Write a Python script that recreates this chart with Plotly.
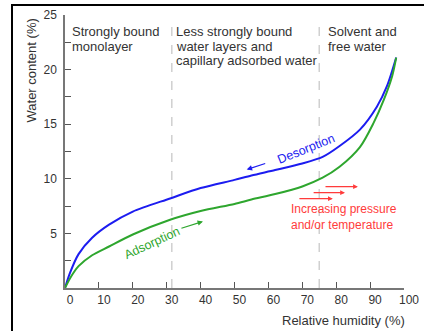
import plotly.graph_objects as go

# ---- data ----
rh_desorption = [0, 1.5, 4, 8, 13, 20, 31, 40, 50, 55, 62, 70, 76, 81, 87, 92, 95, 97.7]
wc_desorption = [0, 1.4, 3.1, 4.6, 5.8, 7.0, 8.2, 9.15, 9.9, 10.3, 10.8, 11.4, 12.0, 13.0, 14.5, 16.6, 18.5, 21.1]

rh_adsorption = [0, 1.5, 4, 8, 13, 20, 31, 40, 50, 55, 62, 70, 76, 81, 87, 91, 94, 96.5, 97.7]
wc_adsorption = [0, 0.9, 2.0, 3.0, 3.8, 4.9, 6.25, 7.05, 7.7, 8.1, 8.6, 9.3, 10.1, 11.1, 12.9, 15.1, 17.2, 19.4, 21.1]

zone_bounds = [31.5, 75]
zone_labels = [["Strongly bound", "monolayer"],
               ["Less strongly bound", "water layers and", "capillary adsorbed water"],
               ["Solvent and", "free water"]]
zone_label_x = [1.6, 32.2, 77.0]
zone_line_y = [23.45, 22.12, 20.8]

x_ticks = list(range(0, 101, 10))
y_ticks = [0, 2.5, 5, 7.5, 10, 12.5, 15, 17.5, 20, 22.5, 25]
y_ticktext = ["", "", "5", "", "10", "", "15", "", "20", "", "25"]

FONT = "Liberation Sans, Arial, sans-serif"
TXT = "#333333"
BLUE = "#1c1cf0"
GREEN = "#2ea62e"
RED = "#ff3b3b"

fig = go.Figure()
fig.add_trace(go.Scatter(x=rh_desorption, y=wc_desorption, mode="lines",
                         line=dict(color=BLUE, width=2, shape="spline", smoothing=0.8),
                         hoverinfo="skip", showlegend=False))
fig.add_trace(go.Scatter(x=rh_adsorption, y=wc_adsorption, mode="lines",
                         line=dict(color=GREEN, width=2, shape="spline", smoothing=0.8),
                         hoverinfo="skip", showlegend=False))
# invisible trace carrying the frame axes (x2/y2 span the whole paper)
fig.add_trace(go.Scatter(x=[0.5], y=[0.5], xaxis="x2", yaxis="y2", mode="markers",
                         marker=dict(opacity=0), hoverinfo="skip", showlegend=False))

# zone separators
for xb in zone_bounds:
    fig.add_shape(type="line", xref="x", yref="y", x0=xb, x1=xb, y0=0, y1=24.7,
                  line=dict(color="#d0d0d0", width=1.5, dash="dash"), layer="below")

# zone labels
for lines, xl in zip(zone_labels, zone_label_x):
    for ln, yl in zip(lines, zone_line_y):
        fig.add_annotation(x=xl, y=yl, xref="x", yref="y", text=ln, showarrow=False,
                           xanchor="left", yanchor="middle", align="left",
                           font=dict(family=FONT, size=13, color=TXT))

# curve labels
fig.add_annotation(x=71.1, y=12.7, text="Desorption", showarrow=False, textangle=-22,
                   font=dict(family=FONT, size=12.5, color=BLUE))
fig.add_annotation(x=53.6, y=10.85, ax=59.5, ay=11.45, axref="x", ayref="y", text="",
                   showarrow=True, arrowhead=2, arrowsize=0.9, arrowwidth=1.2, arrowcolor=BLUE)
fig.add_annotation(x=25.7, y=4.15, text="Adsorption", showarrow=False, textangle=-25,
                   font=dict(family=FONT, size=12.5, color=GREEN))
fig.add_annotation(x=40.7, y=6.1, ax=33.9, ay=5.43, axref="x", ayref="y", text="",
                   showarrow=True, arrowhead=2, arrowsize=0.9, arrowwidth=1.2, arrowcolor=GREEN)

# red arrows + text
red_tails_x = [76.4, 72.9, 68.7]
red_heads_x = [86.4, 82.6, 79.0]
red_y = [9.28, 8.73, 8.18]
for tx, hx, yy in zip(red_tails_x, red_heads_x, red_y):
    fig.add_annotation(x=hx, y=yy, ax=tx, ay=yy, axref="x", ayref="y", text="",
                       showarrow=True, arrowhead=2, arrowsize=0.8, arrowwidth=1.2, arrowcolor=RED)
fig.add_annotation(x=66.0, y=8.1, text="Increasing pressure<br>and/or temperature",
                   showarrow=False, xanchor="left", yanchor="top", align="left",
                   font=dict(family=FONT, size=12, color=RED))

# axis titles
fig.add_annotation(x=0.0462, y=0.8015, xref="paper", yref="paper", text="Water content (%)",
                   showarrow=False, textangle=-90, xanchor="center", yanchor="middle",
                   font=dict(family=FONT, size=13, color=TXT))
fig.add_annotation(x=0.9586, y=0.0338, xref="paper", yref="paper", text="Relative humidity (%)",
                   showarrow=False, xanchor="right", yanchor="middle",
                   font=dict(family=FONT, size=13, color=TXT))

fig.update_layout(
    width=424, height=331, margin=dict(l=13, r=0, t=6, b=0, autoexpand=False),
    plot_bgcolor="rgba(0,0,0,0)", paper_bgcolor="white",
    xaxis=dict(range=[0, 100], domain=[0.12652, 0.95134], tickvals=x_ticks, ticks="inside",
               ticklen=6, tickcolor="#555", showline=True, linecolor="#777", linewidth=1.5,
               showgrid=False, zeroline=False, ticklabelshift=5, automargin=False,
               tickfont=dict(family=FONT, size=12, color=TXT)),
    yaxis=dict(range=[0, 25], domain=[0.13231, 0.97231], tickvals=y_ticks, ticktext=y_ticktext,
               ticks="inside", ticklen=6, tickcolor="#555", showline=True, linecolor="#777",
               linewidth=1.5, showgrid=False, zeroline=False, ticklabelstandoff=4, automargin=False,
               tickfont=dict(family=FONT, size=12, color=TXT)),
    # frame: left and top edges of the paper drawn as axis lines
    xaxis2=dict(domain=[0, 1], anchor="y2", side="top", showline=True, linecolor="black",
                linewidth=2, showticklabels=False, ticks="", showgrid=False, zeroline=False,
                range=[0, 1], automargin=False),
    yaxis2=dict(domain=[0, 1], anchor="x2", side="left", showline=True, linecolor="black",
                linewidth=2, showticklabels=False, ticks="", showgrid=False, zeroline=False,
                range=[0, 1], automargin=False),
)

fig.write_html("out.html", config={"displayModeBar": False, "responsive": False},
               post_script="document.body.style.margin='0';document.body.style.overflow='hidden';")
